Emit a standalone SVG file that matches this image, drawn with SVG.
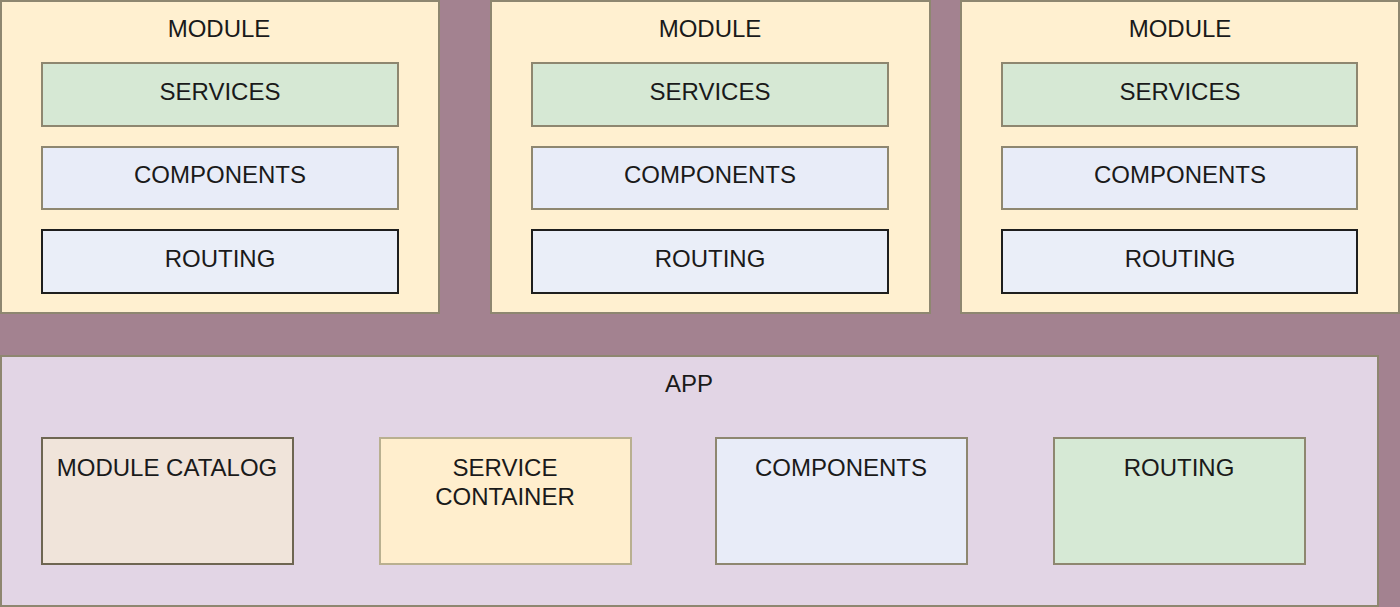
<svg xmlns="http://www.w3.org/2000/svg" width="1400" height="607" viewBox="0 0 1400 607">
<style>
text{font-family:"Liberation Sans",Arial,sans-serif;font-size:24px;fill:#1a1a1a;text-anchor:middle}
.mod{fill:#fff0d0;stroke:#8e8770;stroke-width:2}
.svc{fill:#d6e8d4;stroke:#8e8770;stroke-width:2}
.cmp{fill:#e8ecf8;stroke:#8e8770;stroke-width:2}
.rt{fill:#eaeef8;stroke:#1e1e1e;stroke-width:2}
.app{fill:#e2d5e5;stroke:#8e8770;stroke-width:2}
.cat{fill:#f0e4da;stroke:#6e6652;stroke-width:2}
.sc{fill:#ffeecd;stroke:#b9b090;stroke-width:2}
.acmp{fill:#e8ecf8;stroke:#8e8770;stroke-width:2}
.art{fill:#d6e9d5;stroke:#8e8770;stroke-width:2}
</style>
<rect x="0" y="0" width="1400" height="607" fill="#a38290"/>
<g id="module1">
<rect class="mod" x="1" y="1" width="438" height="312"/>
<text x="219" y="37">MODULE</text>
<g id="m1-services"><rect class="svc" x="42" y="63" width="356" height="63"/><text x="220" y="100">SERVICES</text></g>
<g id="m1-components"><rect class="cmp" x="42" y="147" width="356" height="62"/><text x="220" y="183">COMPONENTS</text></g>
<g id="m1-routing"><rect class="rt" x="42" y="230" width="356" height="63"/><text x="220" y="267">ROUTING</text></g>
</g>
<g id="module2">
<rect class="mod" x="491" y="1" width="439" height="312"/>
<text x="710" y="37">MODULE</text>
<g id="m2-services"><rect class="svc" x="532" y="63" width="356" height="63"/><text x="710" y="100">SERVICES</text></g>
<g id="m2-components"><rect class="cmp" x="532" y="147" width="356" height="62"/><text x="710" y="183">COMPONENTS</text></g>
<g id="m2-routing"><rect class="rt" x="532" y="230" width="356" height="63"/><text x="710" y="267">ROUTING</text></g>
</g>
<g id="module3">
<rect class="mod" x="961" y="1" width="438" height="312"/>
<text x="1180" y="37">MODULE</text>
<g id="m3-services"><rect class="svc" x="1002" y="63" width="355" height="63"/><text x="1180" y="100">SERVICES</text></g>
<g id="m3-components"><rect class="cmp" x="1002" y="147" width="355" height="62"/><text x="1180" y="183">COMPONENTS</text></g>
<g id="m3-routing"><rect class="rt" x="1002" y="230" width="355" height="63"/><text x="1180" y="267">ROUTING</text></g>
</g>
<g id="app">
<rect class="app" x="1" y="356" width="1377" height="250"/>
<text x="689" y="392">APP</text>
<g id="module-catalog"><rect class="cat" x="42" y="438" width="251" height="126"/><text x="167" y="476">MODULE CATALOG</text></g>
<g id="service-container"><rect class="sc" x="380" y="438" width="251" height="126"/><text x="505" y="476">SERVICE</text><text x="505" y="505">CONTAINER</text></g>
<g id="app-components"><rect class="acmp" x="716" y="438" width="251" height="126"/><text x="841" y="476">COMPONENTS</text></g>
<g id="app-routing"><rect class="art" x="1054" y="438" width="251" height="126"/><text x="1179" y="476">ROUTING</text></g>
</g>
<g id="connectors"></g>
</svg>
